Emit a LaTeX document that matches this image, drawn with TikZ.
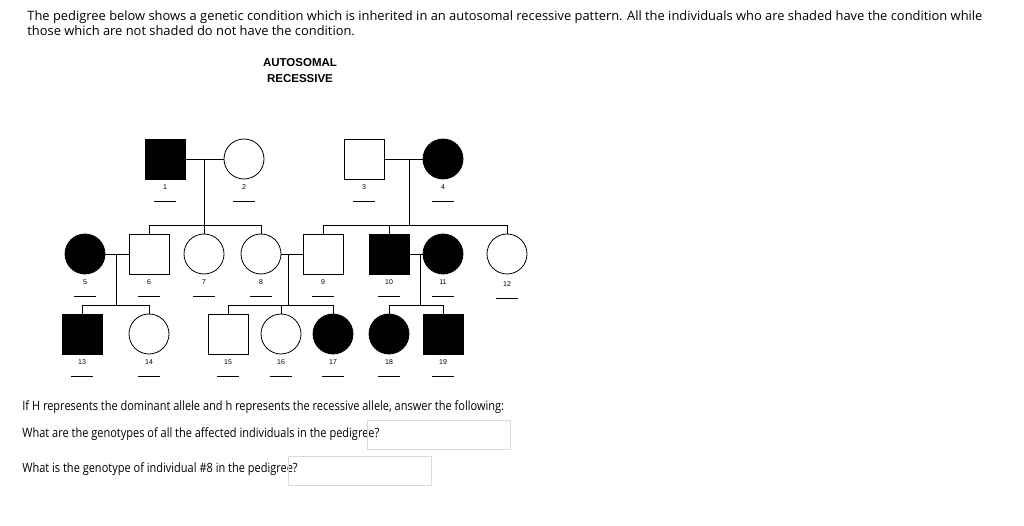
\documentclass[tikz,border=0pt]{standalone}
\usepackage{fontspec}
\setmainfont{Open Sans}
\newfontfamily\arial{Liberation Sans}
\newfontfamily\narrow[FakeStretch=0.86]{Open Sans}
\usetikzlibrary{positioning}

\tikzset{
  male/.style={draw,thick,minimum size=40pt,inner sep=0pt},
  female/.style={draw,thick,circle,minimum size=40pt,inner sep=0pt},
  ill/.style={fill=black},
  num/.style={font=\arial\fontsize{7}{8}\selectfont,inner sep=0pt},
  blank/.style={draw,thick,line cap=butt},
  answerbox/.style={draw=black!15,minimum width=143pt,minimum height=29pt,inner sep=0pt},
  txt/.style={anchor=west,inner sep=0pt,font=\fontsize{12.9}{15.5}\selectfont},
  qtxt/.style={anchor=west,inner sep=0pt,font=\narrow\fontsize{12.8}{15}\selectfont}
}

\begin{document}
\begin{tikzpicture}[x=1pt,y=-1pt,thick]
  \useasboundingbox[fill=white] (0,0) rectangle (1024,526);

  \node [txt,align=left,anchor=north west] at (27,10)
    {The pedigree below shows a genetic condition which is inherited in an autosomal recessive pattern. All the individuals who are shaded have the condition while\\
     those which are not shaded do not have the condition.};
  \node [font=\arial\bfseries\fontsize{11.5}{16}\selectfont,align=center] (title) at (300,71) {AUTOSOMAL\\RECESSIVE};

  % generation I
  \node [male,ill] (p1) at (165,159) {};
  \node [female] (p2) at (244,159) {};
  \node [male] (p3) at (364,159) {};
  \node [female,ill] (p4) at (443,159) {};
  % generation II
  \node [female,ill] (p5) at (85,254) {};
  \node [male] (p6) at (149,254) {};
  \node [female] (p7) at (204,254) {};
  \node [female] (p8) at (261,254) {};
  \node [male] (p9) at (323,254) {};
  \node [male,ill] (p10) at (389,254) {};
  \node [female,ill] (p11) at (443,254) {};
  \node [female] (p12) at (507,254) {};
  % generation III
  \node [male,ill] (p13) at (82,334) {};
  \node [female] (p14) at (149,334) {};
  \node [male] (p15) at (228,334) {};
  \node [female] (p16) at (281,334) {};
  \node [female,ill] (p17) at (333,334) {};
  \node [female,ill] (p18) at (389,334) {};
  \node [male,ill] (p19) at (443,334) {};

  % numbers and blanks
  \foreach \i/\dy in {1/28,2/28,3/28,4/28,5/28,6/28,7/28,8/28,9/28,10/28,11/28,12/30,13/28,14/28,15/28,16/28,17/28,18/28,19/28} {
    \node [num] (n\i) at ([yshift=-\dy pt]p\i.center) {\i};
    \draw [blank] ([xshift=-11pt,yshift=-14pt]n\i.center) -- ([xshift=11pt,yshift=-14pt]n\i.center);
  }

  % matings
  \draw (p1) -- (p2);
  \draw (p3) -- (p4);
  \draw (p5) -- (p6);
  \draw (p8) -- (p9);
  \draw (p10) -- (p11);

  % sibships
  \coordinate (m12) at (204,159);
  \coordinate (m34) at (409,159);
  \coordinate (m56) at (116,254);
  \coordinate (m89) at (288,254);
  \coordinate (m1011) at (420,254);
  \draw (m12) -- (204,225);
  \draw (p6.north) |- (p8.north |- 0,225) -- (p8.north);
  \draw (p7.north) -- (p7.north |- 0,225);
  \draw (m34) -- (409,225);
  \draw (p9.north) |- (p12.north |- 0,225) -- (p12.north);
  \draw (p10.north) -- (p10.north |- 0,225);
  \draw (m56) -- (116,305);
  \draw (p13.north) |- (p14.north |- 0,305) -- (p14.north);
  \draw (m89) -- (288,305);
  \draw (p15.north) |- (p17.north |- 0,305) -- (p17.north);
  \draw (p16.north) -- (p16.north |- 0,305);
  \draw (m1011) -- (420,305);
  \draw (p18.north) |- (p19.north |- 0,305) -- (p19.north);

  % questions
  \node [qtxt] (q0) at (22,407) {If H represents the dominant allele and h represents the recessive allele, answer the following:};
  \node [qtxt] (q1) at (22,434) {What are the genotypes of all the affected individuals in the pedigree?};
  \node [answerbox,anchor=west] (a1) at (367,435) {};
  \node [qtxt] (q2) at (22,469) {What is the genotype of individual \#8 in the pedigree?};
  \node [answerbox,anchor=west] (a2) at (288,471) {};
\end{tikzpicture}
\end{document}
